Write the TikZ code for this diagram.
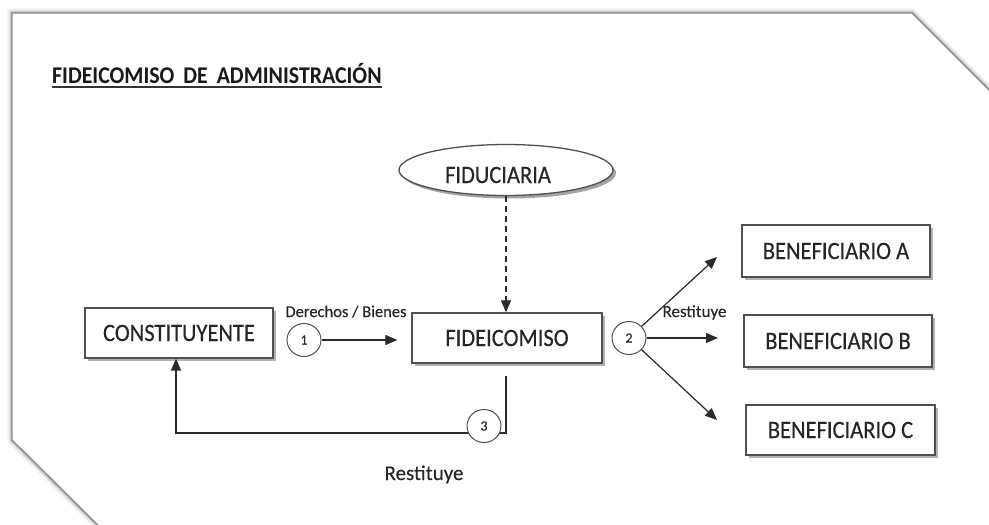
\documentclass[tikz,border=0pt]{standalone}
\usepackage{fontspec}
\setmainfont{Carlito}
\newfontfamily\boxfont{Carlito}[FakeStretch=0.9, FakeBold=0.35]
\newfontfamily\titlefont{Carlito}[FakeStretch=0.91]
\newfontfamily\smallfont{Carlito}[FakeBold=0.2]
\usetikzlibrary{shapes.geometric,shadows,arrows.meta}
\definecolor{inkcol}{HTML}{262626}
\definecolor{edgecol}{HTML}{505050}
\definecolor{linecol}{HTML}{2A2A2A}
\begin{document}
\begin{tikzpicture}[x=1pt,y=-1pt,
  boxnode/.style={rectangle, draw=edgecol, line width=1.3pt, fill=white,
    inner sep=0pt, minimum width=188pt, minimum height=50pt,
    font=\boxfont\fontsize{25}{25}\selectfont, text=inkcol,
    drop shadow={shadow xshift=3pt, shadow yshift=-3pt, fill=black!55, opacity=0.55}},
  ovalnode/.style={ellipse, draw=edgecol, line width=1.3pt, fill=white,
    inner sep=0pt, minimum width=214pt, minimum height=51pt,
    drop shadow={shadow xshift=3pt, shadow yshift=-3pt, fill=black!60, opacity=0.6}},
  numcircle/.style={ellipse, draw=edgecol, line width=1pt, fill=white,
    inner sep=0pt, minimum width=34pt, minimum height=33pt,
    font=\smallfont\fontsize{14}{14}\selectfont, text=inkcol},
  lbl/.style={inner sep=0pt, text=inkcol, anchor=base},
  conn/.style={draw=linecol, line width=1.2pt},
  tip/.style={-{Triangle[length=12pt,width=10pt]}},
  dashline/.style={dash pattern=on 6pt off 4pt}
]
\useasboundingbox (0,0) rectangle (989,525);

% page with cut corners and soft shadow
\begin{scope}
  \clip (0,0) rectangle (989,525);
  \def\pagepath{(12,13) -- (912,13) -- (1010,111) -- (1010,545) -- (118,545) -- (12,440) -- cycle}
  \foreach \w/\o in {10/0.04, 7/0.06, 4.5/0.09, 2.5/0.15}
    \draw[black, line width=\w pt, opacity=\o, line join=miter] \pagepath;
  \fill[white] \pagepath;
  \draw[black!45, line width=1.3pt, line join=miter] \pagepath;
\end{scope}

% title
\node[inner sep=0pt, anchor=base west, text=black!90,
  font=\titlefont\bfseries\fontsize{24}{24}\selectfont] (title) at (52,83)
  {FIDEICOMISO\hspace{4pt} DE\hspace{4pt} ADMINISTRACIÓN};
\draw[black!80, line width=1.8pt] ([yshift=-4pt]title.base west) -- ([yshift=-4pt]title.base east);

% parties
\node[boxnode] (cons) at (179,333) {CONSTITUYENTE};
\node[boxnode, minimum width=190pt] (fid) at (507,338) {FIDEICOMISO};
\node[boxnode, minimum height=52pt] (benA) at (836,251) {BENEFICIARIO A};
\node[boxnode, minimum height=52pt] (benB) at (838,341) {BENEFICIARIO B};
\node[boxnode, minimum width=189pt] (benC) at (840.5,430) {BENEFICIARIO C};
\node[ovalnode, label={[xshift=-8pt, yshift=-5pt, inner sep=0pt, text=inkcol,
  font=\boxfont\fontsize{25}{25}\selectfont]center:FIDUCIARIA}] (fiduc) at (506,170) {};

% numbered steps
\node[numcircle] (c1) at (304,340) {1};
\node[numcircle] (c2) at (629,338) {2};

% free ends of the arrows
\coordinate (tA) at (717,257);
\coordinate (tB) at (718,338);
\coordinate (tC) at (717,420);
\coordinate (r0) at (506,376);
\coordinate (r1) at (506,433);
\coordinate (r2) at (176,433);

% connectors
\draw[conn, tip, shorten >=14pt] (c1) -- (c1 -| fid.west);
\draw[conn, tip, dashline] (fiduc.south) -- (fiduc.south |- fid.north);
\draw[conn, tip] (c2) -- (tA);
\draw[conn, tip] (c2) -- (tB);
\draw[conn, tip] (c2) -- (tC);
\draw[conn, tip] (r0) -- (r1) -- (r2) -- (r2 |- cons.south);
\node[numcircle] (c3) at (484,426) {3};

% labels
\node[lbl, font=\smallfont\fontsize{16.5}{17}\selectfont] (lblDB) at (346,317) {Derechos / Bienes};
\node[lbl, font=\smallfont\fontsize{17}{18}\selectfont] (lblR2) at (694.5,317) {Restituye};
\node[lbl, font=\smallfont\fontsize{21}{22}\selectfont] (lblR3) at (424,480) {Restituye};
\end{tikzpicture}
\end{document}
